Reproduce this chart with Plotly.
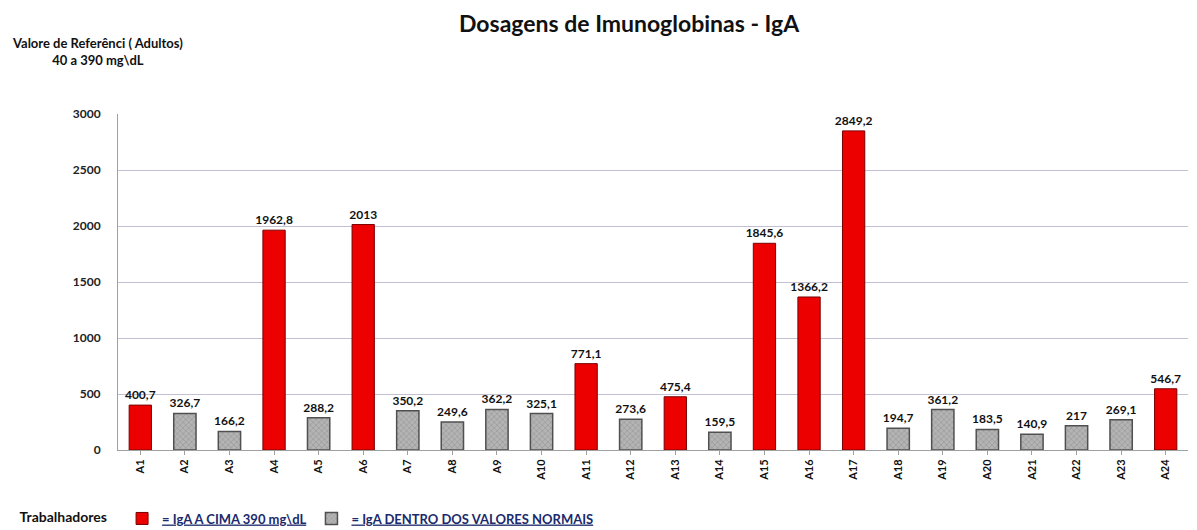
import plotly.graph_objects as go

categories = ["A1", "A2", "A3", "A4", "A5", "A6", "A7", "A8", "A9", "A10", "A11", "A12",
              "A13", "A14", "A15", "A16", "A17", "A18", "A19", "A20", "A21", "A22", "A23", "A24"]
values = [400.7, 326.7, 166.2, 1962.8, 288.2, 2013, 350.2, 249.6, 362.2, 325.1, 771.1, 273.6,
          475.4, 159.5, 1845.6, 1366.2, 2849.2, 194.7, 361.2, 183.5, 140.9, 217, 269.1, 546.7]
limit = 390
y_ticks = [0, 500, 1000, 1500, 2000, 2500, 3000]

def fmt(v):
    return "<b>" + f"{v:g}".replace(".", ",") + "</b>"

high_y = [v if v > limit else None for v in values]
norm_y = [v if v <= limit else None for v in values]
high_t = [fmt(v) if v > limit else "" for v in values]
norm_t = [fmt(v) if v <= limit else "" for v in values]

FONT = "Lato, 'Open Sans', sans-serif"

fig = go.Figure()
fig.add_trace(go.Bar(
    x=categories, y=high_y, text=high_t, textposition="outside", cliponaxis=False,
    constraintext="none",
    name="<u><b>= IgA A CIMA 390 mg\\dL</b></u>",
    marker=dict(color="#ec0000", line=dict(color="#7a0000", width=1)),
    textfont=dict(family=FONT, size=12, color="#111111"),
    width=0.5,
))
fig.add_trace(go.Bar(
    x=categories, y=norm_y, text=norm_t, textposition="outside", cliponaxis=False,
    constraintext="none",
    name="<u><b>= IgA DENTRO DOS VALORES NORMAIS</b></u>",
    marker=dict(color="#b4b4b4", line=dict(color="#505050", width=1.5),
                pattern=dict(shape="x", fgcolor="#7a7a7a", size=4, solidity=0.3)),
    textfont=dict(family=FONT, size=12, color="#111111"),
    width=0.5,
))

fig.update_layout(
    width=1189, height=522,
    margin=dict(l=110, r=9, t=106, b=80, autoexpand=False),
    paper_bgcolor="white", plot_bgcolor="white",
    barmode="overlay",
    font=dict(family=FONT, size=11, color="#222222"),
    showlegend=True,
    legend=dict(orientation="h", xref="container", yref="container",
                x=0.008, xanchor="left", y=0.022, yanchor="middle",
                title=dict(text="<b>Trabalhadores</b>  ", font=dict(family=FONT, size=14, color="#111111")),
                font=dict(family=FONT, size=13, color="#1a2a6c"),
                itemwidth=30, traceorder="normal"),
    xaxis=dict(type="category", categoryorder="array", categoryarray=categories,
               tickvals=categories, ticktext=[f"<b>{c}</b>" for c in categories],
               tickangle=-90, tickfont=dict(family=FONT, size=11, color="#111111"),
               showline=True, linecolor="#a0a0a0", ticks="outside", tickcolor="#a0a0a0",
               ticklen=4, showgrid=False),
    yaxis=dict(range=[0, 3000], tickvals=y_ticks, ticktext=[f"<b>{t}</b>" for t in y_ticks],
               tickfont=dict(family=FONT, size=12, color="#222222"),
               showline=True, linecolor="#a0a0a0", showgrid=True, gridcolor="#c4c0d4",
               gridwidth=1, zeroline=False, ticks="", ticklabelstandoff=14),
    annotations=[
        dict(text="<b>Dosagens de Imunoglobinas - IgA</b>",
             xref="paper", yref="paper", x=0.478, y=1.27, xanchor="center", yanchor="middle",
             showarrow=False, font=dict(family=FONT, size=23, color="#111111")),
        dict(text="<b>Valore de Referênci ( Adultos)</b><br><b>40 a 390 mg\\dL</b>",
             xref="paper", yref="paper", x=-0.0196, y=1.1875, xanchor="center", yanchor="middle",
             showarrow=False, align="center", font=dict(family=FONT, size=13, color="#111111")),
    ],
)

fig.write_html("out.html")
